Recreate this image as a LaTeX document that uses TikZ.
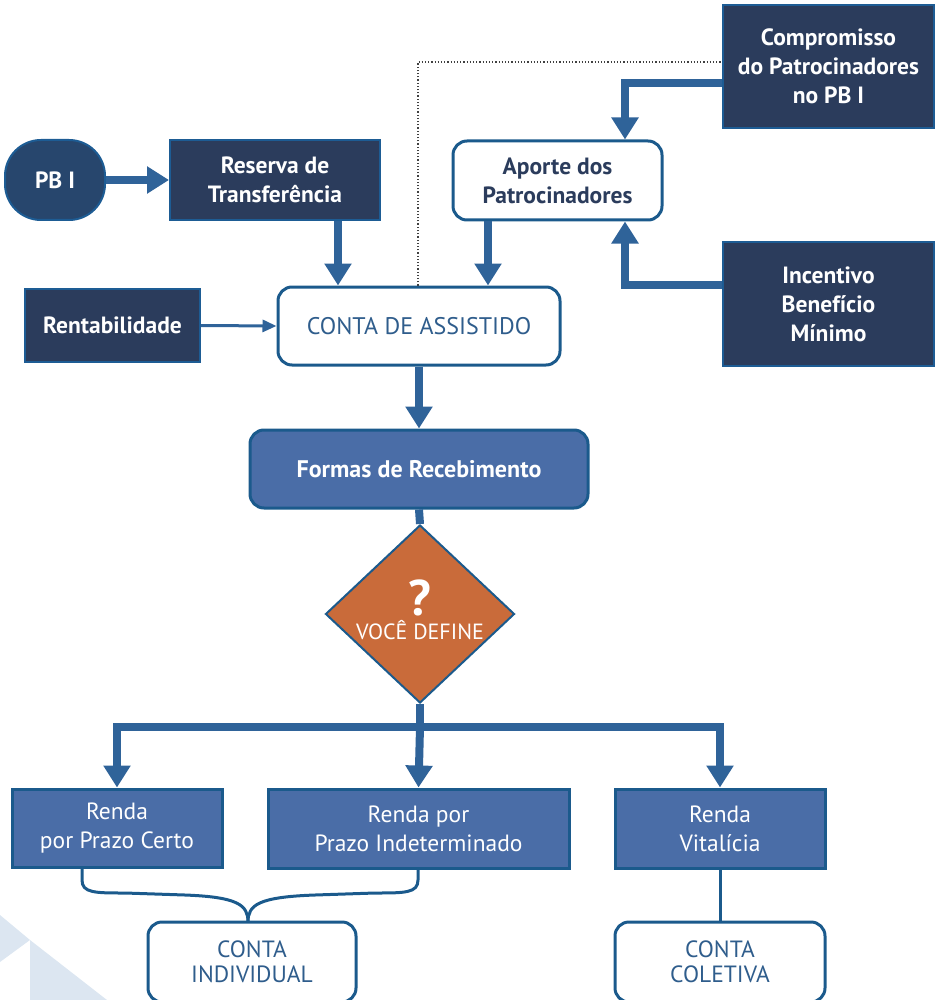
\documentclass[tikz,border=0pt]{standalone}
\usepackage{fontspec}
\setmainfont{PT Sans}
\usetikzlibrary{arrows.meta,shapes.geometric}
\definecolor{navy}{HTML}{2B3C5C}
\definecolor{navyborder}{HTML}{1D5C94}
\definecolor{medblue}{HTML}{4A6DA7}
\definecolor{arrowblue}{HTML}{2F6399}
\definecolor{outline}{HTML}{1B5A8C}
\definecolor{textblue}{HTML}{2F5D8C}
\definecolor{orangebox}{HTML}{C96B3A}
\definecolor{lightbg}{HTML}{DCE6F1}
\begin{document}
\begin{tikzpicture}[x=1pt,y=-1pt,
  navybox/.style={draw=navyborder, line width=2pt, fill=navy, text=white, font=\fontsize{23.5}{29}\selectfont\bfseries, align=center, inner sep=0pt},
  whitebox/.style={draw=outline, line width=3pt, fill=white, rounded corners=14pt, align=center, inner sep=0pt},
  bluebox/.style={draw=outline, line width=3pt, fill=medblue, text=white, font=\fontsize{23.5}{29}\selectfont, align=center, inner sep=0pt},
  bigarrow/.style={draw=arrowblue, line width=8pt, -{Triangle[width=26pt,length=22pt]}},
  bigline/.style={draw=arrowblue, line width=8pt},
  thinarrow/.style={draw=arrowblue, line width=3pt, -{Triangle[width=12pt,length=14pt]}},
  thinline/.style={draw=outline, line width=3pt}
]
\useasboundingbox (0,0) rectangle (938,1000);
% background triangles
\fill[lightbg] (0,915) -- (30,940) -- (0,962) -- cycle;
\fill[lightbg] (30,940) -- (30,1000) -- (107,1000) -- cycle;

% nodes
\node[draw=navyborder, line width=2pt, fill=navy!70!navyborder, rounded corners=36pt, minimum width=100pt, minimum height=80pt, text=white, font=\fontsize{23.5}{28}\selectfont\bfseries, inner sep=0pt] (pb) at (55,180) {PB I};
\node[navybox, minimum width=210pt, minimum height=80pt] (res) at (275,180) {Reserva de\\Transferência};
\node[navybox, minimum width=175pt, minimum height=73pt] (rent) at (112.5,325.5) {Rentabilidade};
\node[whitebox, minimum width=282pt, minimum height=78pt, text=textblue, font=\fontsize{24}{28}\selectfont] (conta) at (419,326) {CONTA DE ASSISTIDO};
\node[whitebox, minimum width=209pt, minimum height=79pt, text=navy, font=\fontsize{23.5}{29}\selectfont\bfseries] (aporte) at (557.5,180.5) {Aporte dos\\Patrocinadores};
\node[navybox, minimum width=211pt, minimum height=123pt] (comp) at (828.5,66.5) {Compromisso\\do Patrocinadores\\no PB I};
\node[navybox, minimum width=211pt, minimum height=124pt] (inc) at (828.5,304) {Incentivo\\Benefício\\Mínimo};
\node[draw=outline, line width=3pt, fill=medblue, rounded corners=14pt, minimum width=338pt, minimum height=78pt, text=white, font=\fontsize{24}{28}\selectfont\bfseries, inner sep=0pt] (formas) at (419,469) {Formas de Recebimento};
\node[diamond, draw=outline, line width=2pt, fill=orangebox, minimum width=189pt, minimum height=178pt, inner sep=0pt, text=white] (dia) at (420,614) {\makebox[0pt]{\raisebox{0pt}[0pt][0pt]{\begin{tabular}{@{}c@{}}{\fontsize{50}{50}\selectfont\bfseries ?}\\[2pt]{\fontsize{22}{26}\selectfont VOCÊ DEFINE}\end{tabular}}}};
\node[bluebox, minimum width=210pt, minimum height=78pt] (rpc) at (117,828) {Renda\\por Prazo Certo};
\node[bluebox, minimum width=301pt, minimum height=79pt] (rpi) at (418.5,828.5) {Renda por\\Prazo Indeterminado};
\node[bluebox, minimum width=210pt, minimum height=79pt] (rv) at (720,828.5) {Renda\\Vitalícia};
\node[whitebox, minimum width=208pt, minimum height=80pt, text=textblue, font=\fontsize{23.5}{25}\selectfont] (ci) at (252,962) {CONTA\\INDIVIDUAL};
\node[whitebox, minimum width=210pt, minimum height=80pt, text=textblue, font=\fontsize{23.5}{25}\selectfont] (cc) at (720,962) {CONTA\\COLETIVA};

% coordinates
\coordinate (dtop) at (418,62);
\coordinate (cmp) at (625,83);
\coordinate (inp) at (625,285);
\coordinate (bl) at (117,727);
\coordinate (bm) at (420,727);
\coordinate (br) at (720,727);
\coordinate (brace) at (248,922);

% connectors
\draw[bigarrow] (pb.east) -- (res.west);
\draw[bigarrow] (res.south -| 338,0) -- (conta.north -| 338,0);
\draw[thinarrow] (rent.east) -- (conta.west);
\draw[bigarrow] (aporte.south -| 488,0) -- (conta.north -| 488,0);
\draw[bigarrow] (comp.west |- cmp) -- (cmp) -- (aporte.north -| cmp);
\draw[bigarrow] (inc.west |- inp) -- (inp) -- (aporte.south -| inp);
\draw[dotted, line width=1.2pt, black!75] (conta.north -| dtop) -- (dtop) -- (comp.west |- dtop);
\draw[bigarrow] (conta.south) -- (formas.north);
\draw[bigline] (formas.south) -- (dia.north);
\draw[bigline] (dia.south) -- (bm);
\draw[bigline, line cap=rect] (bl) -- (br);
\draw[bigarrow] (bl) -- (rpc.north);
\draw[bigarrow] (bm) -- (rpi.north);
\draw[bigarrow] (br) -- (rv.north);
\draw[thinline] (rpc.south -| 82,0) -- (82,880) .. controls (82,893) and (95,893) .. (125,893) -- (185,895) .. controls (238,897) and (248,905) .. (brace);
\draw[thinline] (rpi.south -| 418,0) -- (418,880) .. controls (418,893) and (405,893) .. (375,893) -- (315,895) .. controls (258,897) and (248,905) .. (brace);
\draw[thinline] (rv.south) -- (cc.north);
\end{tikzpicture}
\end{document}
